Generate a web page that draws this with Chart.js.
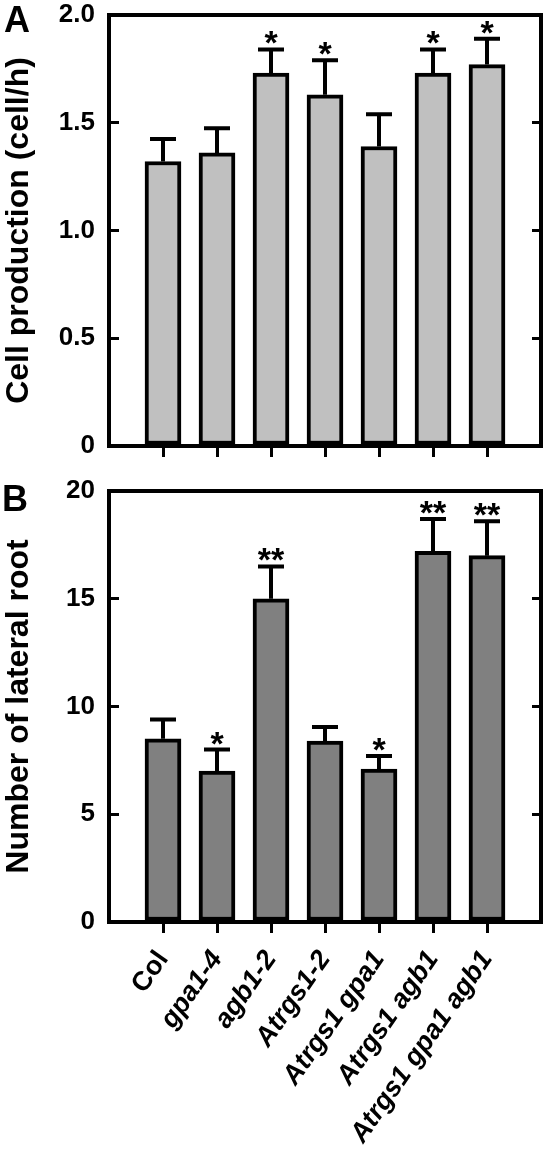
<!DOCTYPE html>
<html>
<head>
<meta charset="utf-8">
<script src="https://cdn.jsdelivr.net/npm/chart.js@4.4.1/dist/chart.umd.min.js"></script>
<style>
  html, body { margin: 0; padding: 0; background: #fff; }
  #wrap { position: relative; width: 548px; height: 1159px; overflow: hidden; }
  canvas { position: absolute; left: 0; }
  .panel { position: absolute; font: bold 36px "Liberation Sans", Arial, sans-serif; line-height: 1; color: #000; }
</style>
</head>
<body>
<div id="wrap">
  <canvas id="cellChart" width="548" height="470" style="top:0"></canvas>
  <canvas id="rootChart" width="548" height="689" style="top:470px"></canvas>
  <div class="panel" style="left:4px; top:2px">A</div>
  <div class="panel" style="left:2px; top:481px">B</div>
</div>
<script>
Chart.defaults.font.family = '"Liberation Sans", Arial, Helvetica, sans-serif';
Chart.defaults.color = '#000';

// genotypes on the x axis
var genotypes = ['Col', 'gpa1-4', 'agb1-2', 'Atrgs1-2', 'Atrgs1 gpa1', 'Atrgs1 agb1', 'Atrgs1 gpa1 agb1'];

// panel A - cell production (cell/h)
var cellProduction = [1.32, 1.36, 1.73, 1.63, 1.39, 1.73, 1.77];
var cellProductionErr = [0.105, 0.115, 0.11, 0.16, 0.15, 0.11, 0.12];
var cellProductionSig = ['', '', '*', '*', '', '*', '*'];
var cellTicks = [0, 0.5, 1.0, 1.5, 2.0];

// panel B - number of lateral root
var lateralRoot = [8.5, 7.0, 15.0, 8.4, 7.1, 17.2, 17.0];
var lateralRootErr = [0.9, 1.0, 1.5, 0.65, 0.6, 1.5, 1.6];
var lateralRootSig = ['', '*', '**', '', '*', '**', '**'];
var rootTicks = [0, 5, 10, 15, 20];

// error bars + significance stars on top of each bar
var errorBars = {
    id: 'errorBars',
    afterDatasetsDraw: function (chart, args, opts) {
        var ctx = chart.ctx;
        var xs = chart.scales.x, ys = chart.scales.y;
        var data = chart.data.datasets[0].data;
        ctx.save();
        ctx.strokeStyle = '#000';
        ctx.fillStyle = '#000';
        ctx.lineWidth = 4;
        ctx.font = 'bold 34px "Liberation Sans", Arial, sans-serif';
        ctx.textAlign = 'center';
        ctx.textBaseline = 'alphabetic';
        for (var i = 0; i < data.length; i++) {
            var x = xs.getPixelForValue(data[i].x);
            var yTop = ys.getPixelForValue(data[i].y);
            var yCap = ys.getPixelForValue(data[i].y + opts.errors[i]);
            ctx.beginPath();
            ctx.moveTo(x, yTop);
            ctx.lineTo(x, yCap);
            ctx.moveTo(x - 13, yCap);
            ctx.lineTo(x + 13, yCap);
            ctx.stroke();
            if (opts.marks[i]) {
                ctx.fillText(opts.marks[i], x, yCap + 5);
            }
        }
        ctx.restore();
    }
};

// fixed axis sizes, no extra label padding pushed into the layout
function fixSize(w, h) {
    return function (s) {
        if (w !== null) s.width = w;
        if (h !== null) s.height = h;
        s.paddingLeft = 0;
        s.paddingRight = 0;
        s.paddingTop = 0;
        s.paddingBottom = 0;
    };
}

function drawPanel(id, values, errs, marks, yTicks, fmt, fill, title, showNames, padTop, xHeight) {
    var yMax = yTicks[yTicks.length - 1];
    var setTicks = function (s) {
        s.ticks = yTicks.map(function (v) { return { value: v }; });
    };

    return new Chart(document.getElementById(id), {
        type: 'bar',
        data: {
            datasets: [{
                data: values.map(function (v, i) { return { x: i, y: v }; }),
                xAxisID: 'x',
                yAxisID: 'y',
                backgroundColor: fill,
                borderColor: '#000',
                borderWidth: 4,
                borderSkipped: false,
                barThickness: 36
            }]
        },
        options: {
            responsive: false,
            animation: false,
            devicePixelRatio: 1,
            layout: { autoPadding: false, padding: { left: 0, right: 7, top: padTop, bottom: 0 } },
            plugins: {
                legend: { display: false },
                tooltip: { enabled: false },
                errorBars: { errors: errs, marks: marks }
            },
            scales: {
                x: {
                    type: 'linear',
                    position: 'bottom',
                    min: -1,
                    max: 7,
                    offset: false,
                    afterBuildTicks: function (s) {
                        s.ticks = genotypes.map(function (g, i) { return { value: i }; });
                    },
                    afterFit: fixSize(null, xHeight),
                    border: { color: '#000', width: 4 },
                    grid: { offset: false, drawOnChartArea: false, color: '#000', lineWidth: 3, tickLength: 11 },
                    ticks: {
                        display: showNames,
                        autoSkip: false,
                        minRotation: 55,
                        maxRotation: 55,
                        padding: 12,
                        callback: function (v) { return genotypes[v]; },
                        font: function (c) {
                            return { size: 27, weight: 'bold', style: c.index === 0 ? 'normal' : 'italic' };
                        }
                    }
                },
                xTop: {
                    type: 'linear',
                    position: 'top',
                    min: -1,
                    max: 7,
                    afterFit: fixSize(null, 0),
                    border: { color: '#000', width: 4 },
                    grid: { display: false },
                    ticks: { display: false }
                },
                y: {
                    type: 'linear',
                    position: 'left',
                    min: 0,
                    max: yMax,
                    afterBuildTicks: setTicks,
                    afterFit: fixSize(109, null),
                    border: { color: '#000', width: 4 },
                    grid: { drawOnChartArea: false, color: '#000', lineWidth: 3, tickLength: -10 },
                    ticks: {
                        padding: 24,
                        font: { size: 26, weight: 'bold' },
                        callback: fmt
                    },
                    title: {
                        display: true,
                        text: title,
                        font: { size: 32, weight: 'bold' },
                        padding: { top: 0, bottom: 0 }
                    }
                },
                y2: {
                    type: 'linear',
                    position: 'right',
                    min: 0,
                    max: yMax,
                    afterBuildTicks: setTicks,
                    afterFit: fixSize(0, null),
                    border: { color: '#000', width: 4 },
                    grid: { drawOnChartArea: false, color: '#000', lineWidth: 3, tickLength: -9 },
                    ticks: { display: false }
                }
            }
        },
        plugins: [errorBars]
    });
}

drawPanel('cellChart', cellProduction, cellProductionErr, cellProductionSig, cellTicks,
    function (v) { return v === 0 ? '0' : v.toFixed(1); },
    '#c0c0c0', 'Cell production (cell/h)', false, 15, 24);

drawPanel('rootChart', lateralRoot, lateralRootErr, lateralRootSig, rootTicks,
    function (v) { return String(v); },
    '#808080', 'Number of lateral root', true, 21, 237);
</script>
</body>
</html>
